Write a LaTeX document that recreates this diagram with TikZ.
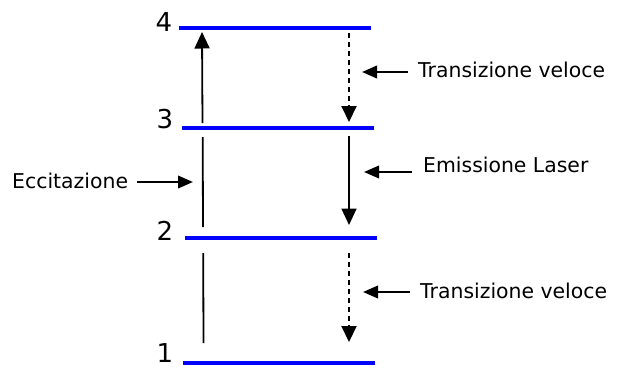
\documentclass[tikz,border=0pt]{standalone}
\usepackage{fontspec}
\setmainfont{DejaVu Sans}
\usetikzlibrary{arrows.meta}
\definecolor{levelblue}{RGB}{0,0,255}
\tikzset{
  level/.style={draw=levelblue, line width=3.2pt},
  lbl/.style={font=\fontsize{20.4}{24}\selectfont, inner sep=0pt, anchor=base west},
  num/.style={font=\fontsize{26}{30}\selectfont, inner sep=0pt},
  vtrans/.style={line width=1.8pt, -{Triangle[length=16.5pt,width=15pt]}},
  vdash/.style={line width=2pt, dash pattern=on 5pt off 4pt, -{Triangle[length=16pt,width=15pt]}},
  vseg/.style={line width=1.8pt},
  pointer/.style={line width=2.2pt, -{Triangle[length=15pt,width=12.5pt]}}
}
\begin{document}
\begin{tikzpicture}[x=1pt,y=-1pt]
\useasboundingbox (0,0) rectangle (618,367);
% energy levels
\coordinate (L4a) at (179,28);  \coordinate (L4b) at (371,28);
\coordinate (L3a) at (182,128); \coordinate (L3b) at (374,128);
\coordinate (L2a) at (185,238); \coordinate (L2b) at (377,238);
\coordinate (L1a) at (183,363); \coordinate (L1b) at (375,363);
\draw[level] (L4a) -- (L4b);
\draw[level] (L3a) -- (L3b);
\draw[level] (L2a) -- (L2b);
\draw[level] (L1a) -- (L1b);
% level numbers
\node[num] (n4) at (164,22) {4};
\node[num] (n3) at (165,119) {3};
\node[num] (n2) at (165,231) {2};
\node[num] (n1) at (165,353) {1};
% excitation arrow (broken at levels)
\coordinate (e1) at (203.5,343); \coordinate (e2) at (203.2,253);
\coordinate (e3) at (203,227);   \coordinate (e4) at (202.7,137);
\coordinate (e5) at (202.5,123); \coordinate (e6) at (202,32);
\draw[vseg] (e1) -- (e2);
\draw[vseg] (e3) -- (e4);
\draw[vtrans] (e5) -- (e6);
% right transitions
\coordinate (r1) at (349,33);  \coordinate (r2) at (349,122);
\coordinate (r3) at (349,136); \coordinate (r4) at (349,225);
\coordinate (r5) at (349,253); \coordinate (r6) at (349,342);
\draw[vdash] (r1) -- (r2);
\draw[vtrans] (r3) -- (r4);
\draw[vdash] (r5) -- (r6);
% labels
\node[lbl] (t1) at (418,77) {Transizione veloce};
\node[lbl] (t2) at (423,172) {Emissione Laser};
\node[lbl] (t3) at (420,298) {Transizione veloce};
\node[lbl] (t4) at (12,188) {Eccitazione};
% pointers
\coordinate (p1s) at (408,72);  \coordinate (p1e) at (362,72);
\coordinate (p2s) at (412,172); \coordinate (p2e) at (364,172);
\coordinate (p3s) at (410,292); \coordinate (p3e) at (363,292);
\coordinate (p4s) at (137,182); \coordinate (p4e) at (193,182);
\draw[pointer] (p1s) -- (p1e);
\draw[pointer] (p2s) -- (p2e);
\draw[pointer] (p3s) -- (p3e);
\draw[pointer] (p4s) -- (p4e);
\end{tikzpicture}
\end{document}
